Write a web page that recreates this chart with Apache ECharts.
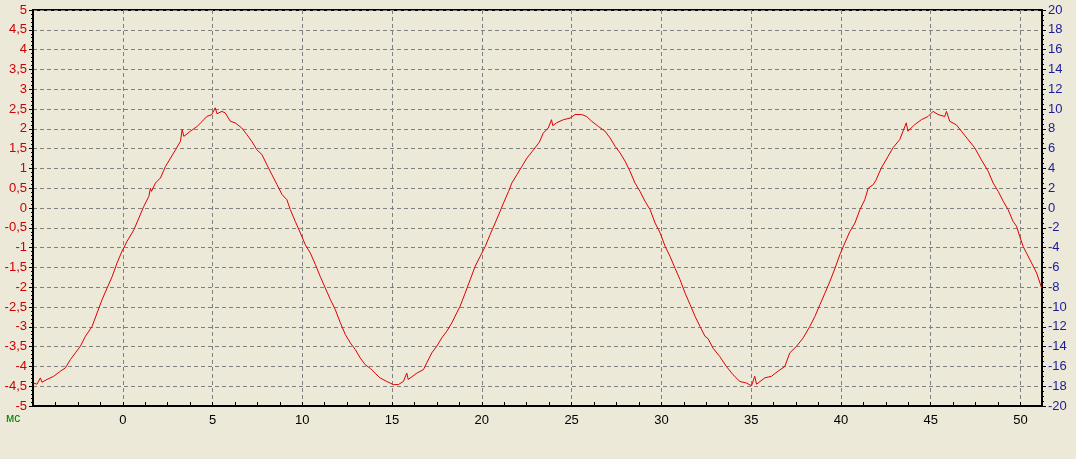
<!DOCTYPE html>
<html>
<head>
<meta charset="utf-8">
<script src="https://cdn.jsdelivr.net/npm/echarts@6/dist/echarts.min.js"></script>
<style>
html,body{margin:0;padding:0;background:#ECE9D8;}
#c{width:1076px;height:459px;}
</style>
</head>
<body>
<div id="c"></div>
<script>
// Time, ms
var timeMs = [
-4.96,-4.78,-4.59,-4.5,-4.22,-3.85,-3.47,-3.2,-2.92,-2.64,-2.36,-2.08,-1.71,-1.43,-1.15,-0.87,-0.59,-0.32,-0.04,0.24,
0.62,0.9,1.17,1.45,1.54,1.6,1.82,2.1,2.38,2.66,2.94,3.21,3.31,3.4,3.77,4.14,4.45,4.68,4.96,5.15,
5.25,5.33,5.52,5.71,5.99,6.26,6.63,6.92,7.19,7.47,7.75,8.03,8.31,8.59,8.87,9.14,9.33,9.61,9.89,10.17,
10.45,10.73,11.0,11.28,11.56,11.84,12.12,12.4,12.68,12.96,13.23,13.51,13.79,14.05,14.33,14.7,15.07,15.35,15.63,15.82,
15.9,16.0,16.38,16.75,16.93,17.21,17.49,17.77,18.05,18.33,18.6,18.79,19.07,19.35,19.63,19.91,20.19,20.46,20.74,21.02,
21.21,21.49,21.67,21.95,22.23,22.51,22.88,23.2,23.42,23.7,23.88,23.95,24.16,24.54,24.91,25.19,25.56,25.84,26.12,26.49,
26.86,27.14,27.42,27.7,27.98,28.25,28.53,28.81,29.09,29.37,29.65,29.93,30.21,30.48,30.76,31.04,31.32,31.6,31.88,32.15,
32.43,32.6,32.88,33.25,33.62,33.99,34.37,34.74,35.02,35.2,35.3,35.39,35.76,36.13,36.5,36.88,37.15,37.53,37.9,38.27,
38.55,38.83,39.11,39.39,39.67,39.94,40.22,40.5,40.78,41.06,41.33,41.52,41.8,41.95,42.25,42.62,42.9,43.28,43.64,43.73,
44.1,44.48,44.85,45.13,45.41,45.78,45.88,46.06,46.43,46.71,47.08,47.45,47.82,48.2,48.48,48.76,49.04,49.31,49.59,49.78,
49.96,50.15,50.34,50.62,50.9,51.18
];
// Signal values (left axis)
var signal = [
-4.42,-4.45,-4.29,-4.4,-4.33,-4.25,-4.12,-4.04,-3.83,-3.66,-3.49,-3.24,-2.99,-2.65,-2.31,-2.02,-1.73,-1.39,-1.09,-0.84,
-0.55,-0.25,0.04,0.29,0.5,0.42,0.63,0.76,1.05,1.26,1.47,1.68,1.98,1.81,1.94,2.06,2.2,2.31,2.36,2.53,
2.38,2.36,2.44,2.4,2.19,2.15,2.02,1.85,1.68,1.47,1.35,1.09,0.84,0.59,0.34,0.21,-0.04,-0.34,-0.63,-0.93,
-1.14,-1.43,-1.73,-2.02,-2.31,-2.57,-2.9,-3.2,-3.41,-3.58,-3.79,-3.96,-4.05,-4.17,-4.29,-4.38,-4.46,-4.46,-4.38,-4.17,
-4.33,-4.29,-4.17,-4.08,-3.91,-3.66,-3.49,-3.28,-3.11,-2.9,-2.65,-2.48,-2.15,-1.81,-1.47,-1.22,-0.97,-0.67,-0.38,-0.08,
0.13,0.42,0.63,0.84,1.05,1.26,1.47,1.66,1.89,2.02,2.23,2.08,2.15,2.23,2.27,2.36,2.36,2.31,2.19,2.06,
1.94,1.77,1.56,1.39,1.18,0.93,0.63,0.42,0.17,-0.04,-0.38,-0.63,-0.97,-1.22,-1.52,-1.81,-2.15,-2.44,-2.74,-2.99,
-3.24,-3.3,-3.54,-3.75,-4.0,-4.21,-4.38,-4.42,-4.49,-4.25,-4.45,-4.42,-4.29,-4.25,-4.12,-4.0,-3.66,-3.49,-3.28,-2.99,
-2.74,-2.44,-2.15,-1.85,-1.52,-1.18,-0.88,-0.59,-0.38,-0.04,0.21,0.5,0.59,0.7,1.01,1.3,1.52,1.73,2.15,1.94,
2.1,2.23,2.31,2.44,2.36,2.31,2.44,2.19,2.1,1.94,1.73,1.52,1.22,0.93,0.63,0.42,0.17,-0.04,-0.34,-0.46,
-0.72,-0.97,-1.14,-1.39,-1.64,-2.02
];
var xRange = [-5, 51.2];
var leftRange = [-5, 5];
var rightRange = [-20, 20];

var data = timeMs.map(function (t, i) { return [t, signal[i]]; });
var font = 'Liberation Sans';
var chart = echarts.init(document.getElementById('c'), null, {renderer: 'canvas'});
chart.setOption({
  backgroundColor: '#ECE9D8',
  animation: false,
  grid: {left: 33, right: 34, top: 10, bottom: 53, show: true, borderColor: '#000', borderWidth: 2, backgroundColor: 'transparent'},
  graphic: [{type: 'text', left: 6, top: 413, style: {text: 'мс', fill: '#008000', font: '12px ' + font}}],
  xAxis: {
    type: 'value', min: xRange[0], max: xRange[1], interval: 5,
    axisLine: {show: true, onZero: false, lineStyle: {color: '#000', width: 2}},
    axisTick: {show: true, inside: true, length: 4, lineStyle: {color: '#000'}},
    minorTick: {show: true, splitNumber: 4, length: 4, lineStyle: {color: '#000'}},
    axisLabel: {color: '#000', fontSize: 13, fontFamily: font, margin: 8, showMinLabel: false, showMaxLabel: false},
    splitLine: {show: true, lineStyle: {color: '#808080', type: [4, 3], width: 1}}
  },
  yAxis: [{
    type: 'value', min: leftRange[0], max: leftRange[1], interval: 0.5, position: 'left',
    axisLine: {show: true, onZero: false, lineStyle: {color: '#000', width: 2}},
    axisTick: {show: true, length: 4, lineStyle: {color: '#000'}},
    minorTick: {show: true, splitNumber: 5, length: 2, lineStyle: {color: '#000'}},
    axisLabel: {color: '#CC0000', fontSize: 13, fontFamily: font, margin: 6,
      formatter: function (v) { return String(v).replace('.', ','); }},
    splitLine: {show: true, lineStyle: {color: '#808080', type: [4, 3], width: 1}}
  }, {
    type: 'value', min: rightRange[0], max: rightRange[1], interval: 2, position: 'right',
    axisLine: {show: true, onZero: false, lineStyle: {color: '#000', width: 2}},
    axisTick: {show: true, length: 4, lineStyle: {color: '#000'}},
    minorTick: {show: true, splitNumber: 4, length: 2, lineStyle: {color: '#000'}},
    axisLabel: {color: '#1a1a9c', fontSize: 13, fontFamily: font, margin: 6},
    splitLine: {show: false}
  }],
  series: [{
    type: 'line', data: data, yAxisIndex: 0, showSymbol: false, symbol: 'none',
    lineStyle: {color: '#E00000', width: 1}
  }]
});
</script>
</body>
</html>
